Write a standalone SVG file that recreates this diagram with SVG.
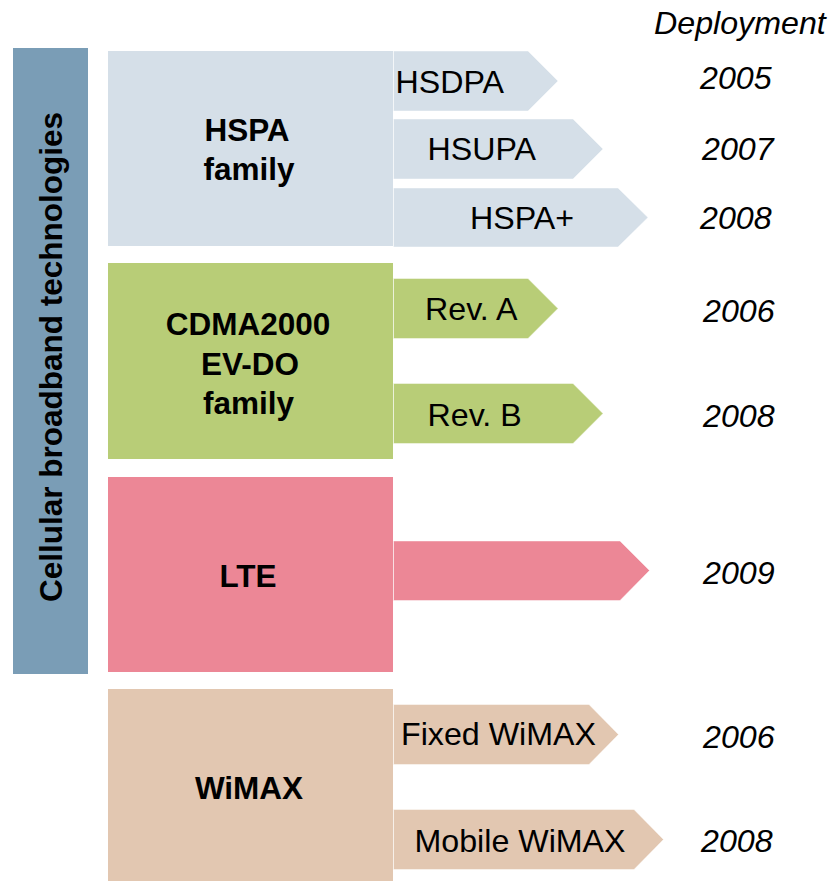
<svg xmlns="http://www.w3.org/2000/svg" width="830" height="881" viewBox="0 0 830 881">
<style>
text{font-family:"Liberation Sans",Arial,sans-serif;font-size:32.2px;fill:#000}
.b{font-weight:bold;font-size:31.5px}
.c{text-anchor:middle}
.i{font-style:italic}
.arr{stroke:#ffffff;stroke-opacity:0.45;stroke-width:1}
.hspa{fill:#d5dfe8}
.cdma{fill:#b8cd77}
.lte{fill:#ec8796}
.wimax{fill:#e2c7b1}
</style>
<rect width="830" height="881" fill="#ffffff"/>
<g id="cellular-bar">
<rect x="13" y="48" width="75" height="626" fill="#7a9db6"/>
<text class="b c" transform="translate(61.5,357) rotate(-90)">Cellular broadband technologies</text>
</g>
<text id="deployment" class="i" x="654" y="34">Deployment</text>
<g id="hspa-family">
<rect class="hspa" x="108" y="51" width="285" height="195"/>
<text class="b c" x="247" y="140.5">HSPA</text>
<text class="b c" x="249" y="179.5">family</text>
</g>
<g id="hsdpa">
<polygon class="hspa arr" points="393.5,51 528,51 558,81 528,111 393.5,111"/>
<text x="395.5" y="93">HSDPA</text>
<text class="i" x="700" y="89">2005</text>
</g>
<g id="hsupa">
<polygon class="hspa arr" points="393.5,119 573,119 603,149 573,179 393.5,179"/>
<text x="427.5" y="159.5">HSUPA</text>
<text class="i" x="702" y="159.5">2007</text>
</g>
<g id="hspa-plus">
<polygon class="hspa arr" points="393.5,188 618,188 648,217.5 618,247 393.5,247"/>
<text x="470" y="228.5">HSPA+</text>
<text class="i" x="700" y="228.5">2008</text>
</g>
<g id="cdma-family">
<rect class="cdma" x="108" y="263" width="285" height="196"/>
<text class="b c" x="248" y="335">CDMA2000</text>
<text class="b c" x="250" y="375">EV-DO</text>
<text class="b c" x="248.5" y="414">family</text>
</g>
<g id="rev-a">
<polygon class="cdma arr" points="393.5,278.5 528,278.5 558,308.5 528,338.5 393.5,338.5"/>
<text x="425" y="320">Rev. A</text>
<text class="i" x="703" y="321.5">2006</text>
</g>
<g id="rev-b">
<polygon class="cdma arr" points="393.5,383.5 573,383.5 603,413.5 573,443.5 393.5,443.5"/>
<text x="427.5" y="426">Rev. B</text>
<text class="i" x="703" y="426.5">2008</text>
</g>
<g id="lte">
<rect class="lte" x="108" y="477" width="285" height="195"/>
<text class="b c" x="248" y="586.5">LTE</text>
</g>
<g id="lte-arrow">
<polygon class="lte arr" points="393.5,541 620,541 649.5,570.5 620,600.5 393.5,600.5"/>
<text class="i" x="703" y="584">2009</text>
</g>
<g id="wimax">
<rect class="wimax" x="108" y="689" width="285" height="192"/>
<text class="b c" x="249" y="799">WiMAX</text>
</g>
<g id="fixed-wimax">
<polygon class="wimax arr" points="393.5,704.5 589,704.5 618.5,734.5 589,764.5 393.5,764.5"/>
<text x="401" y="745">Fixed WiMAX</text>
<text class="i" x="703" y="747.5">2006</text>
</g>
<g id="mobile-wimax">
<polygon class="wimax arr" points="393.5,809.5 634,809.5 663.5,839.5 634,869.5 393.5,869.5"/>
<text x="414.5" y="851.5">Mobile WiMAX</text>
<text class="i" x="701" y="851.5">2008</text>
</g>
<g id="connectors"/>
</svg>
